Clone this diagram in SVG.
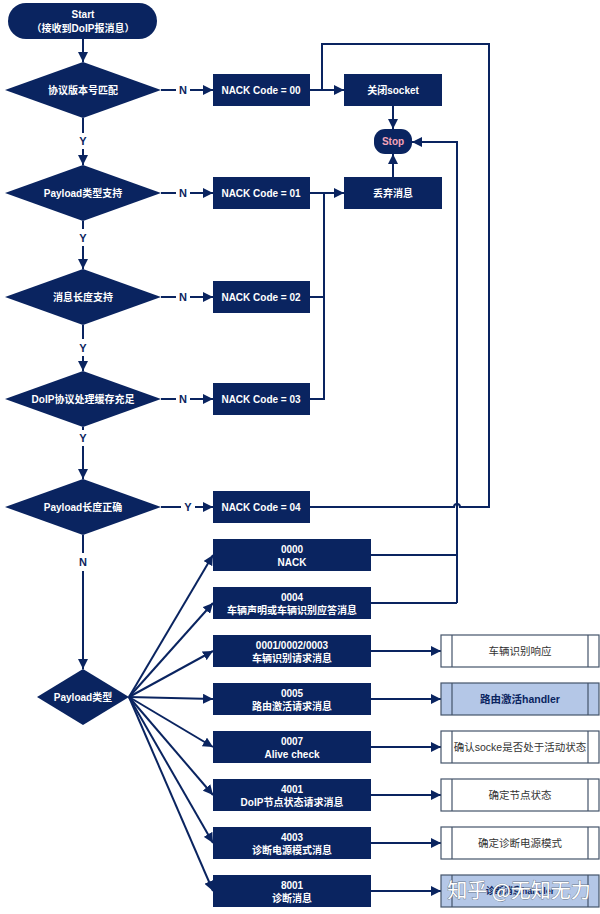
<svg xmlns="http://www.w3.org/2000/svg" width="600" height="914" viewBox="0 0 600 914">
<defs>
<marker id="ah" markerUnits="userSpaceOnUse" markerWidth="10" markerHeight="10" refX="10" refY="5" orient="auto" viewBox="0 0 10 10">
<path d="M0,0 L10,5 L0,10 z" fill="#0a2460"/>
</marker>
</defs>
<style>
.n{fill:#0a2460}
.t{fill:#fff;font-family:"Liberation Sans","Noto Sans CJK SC",sans-serif;font-size:10px;font-weight:bold;text-anchor:middle;dominant-baseline:central}
.l{fill:#0a2460;font-family:"Liberation Sans","Noto Sans CJK SC",sans-serif;font-size:11px;font-weight:bold;text-anchor:middle;dominant-baseline:central}
.c{fill:none;stroke:#0a2460;stroke-width:2}
.a{marker-end:url(#ah)}
.r{fill:#fff;stroke:#44546a;stroke-width:1.2}
.rb{fill:#b4c7e7;stroke:#44546a;stroke-width:1.2}
.rt{fill:#333;font-family:"Liberation Sans","Noto Sans CJK SC",sans-serif;font-size:10.5px;text-anchor:middle;dominant-baseline:central}
.rtb{fill:#0a2460;font-family:"Liberation Sans","Noto Sans CJK SC",sans-serif;font-size:10.5px;font-weight:bold;text-anchor:middle;dominant-baseline:central}
</style>
<rect width="600" height="914" fill="#fff"/>

<g id="connectors">
<path class="c a" d="M83,39 V62"/>
<path class="c" d="M83,118 V133"/><path class="c a" d="M83,149 V165"/>
<path class="c" d="M83,221 V229"/><path class="c a" d="M83,246 V269"/>
<path class="c" d="M83,325 V339"/><path class="c a" d="M83,356 V371"/>
<path class="c" d="M83,427 V430"/><path class="c a" d="M83,446 V479"/>
<path class="c" d="M83,535 V553"/><path class="c a" d="M83,571 V669"/>
<path class="c" d="M161,90 H176"/><path class="c a" d="M190,90 H213"/>
<path class="c" d="M161,193 H176"/><path class="c a" d="M190,193 H213"/>
<path class="c" d="M161,297 H176"/><path class="c a" d="M190,297 H213"/>
<path class="c" d="M161,399 H176"/><path class="c a" d="M190,399 H213"/>
<path class="c" d="M161,507 H181"/><path class="c a" d="M195,507 H213"/>
<path class="c a" d="M310,90 H344"/>
<path class="c" d="M310,507 H454 A3,3 0 0 1 460,507 H489 V44 H322 V90"/>
<path class="c a" d="M310,193 H344"/>
<path class="c" d="M310,297 H324"/>
<path class="c" d="M310,399 H324 V193"/>
<path class="c a" d="M393,106 V129"/>
<path class="c a" d="M393,177 V154"/>
<path class="c a" d="M457,603 V142 H412"/>
<path class="c" d="M371,555 H457"/>
<path class="c" d="M371,603 H457"/>
<path class="c a" d="M129,697 L213,555"/>
<path class="c a" d="M129,697 L213,603"/>
<path class="c a" d="M129,697 L213,651"/>
<path class="c a" d="M129,697 L213,699"/>
<path class="c a" d="M129,697 L213,747"/>
<path class="c a" d="M129,697 L213,795"/>
<path class="c a" d="M129,697 L213,843"/>
<path class="c a" d="M129,697 L213,891"/>
<path class="c a" d="M371,651 H441"/>
<path class="c a" d="M371,699 H441"/>
<path class="c a" d="M371,747 H441"/>
<path class="c a" d="M371,795 H441"/>
<path class="c a" d="M371,843 H441"/>
<path class="c a" d="M371,891 H441"/>
</g>

<g id="labels">
<text class="l" x="83" y="141">Y</text>
<text class="l" x="83" y="238">Y</text>
<text class="l" x="83" y="348">Y</text>
<text class="l" x="83" y="438">Y</text>
<text class="l" x="83" y="562">N</text>
<text class="l" x="183" y="90">N</text>
<text class="l" x="183" y="193">N</text>
<text class="l" x="183" y="297">N</text>
<text class="l" x="183" y="399">N</text>
<text class="l" x="188" y="507">Y</text>
</g>

<g id="start"><rect class="n" x="8" y="3" width="149" height="36" rx="18"/>
<text class="t" x="83" y="14">Start</text><text class="t" x="83" y="28">（接收到DoIP报消息）</text></g>

<g id="d1"><path class="n" d="M5,90 L83,62 L161,90 L83,118 z"/><text class="t" x="83" y="90">协议版本号匹配</text></g>
<g id="d2"><path class="n" d="M5,193 L83,165 L161,193 L83,221 z"/><text class="t" x="83" y="193">Payload类型支持</text></g>
<g id="d3"><path class="n" d="M5,297 L83,269 L161,297 L83,325 z"/><text class="t" x="83" y="297">消息长度支持</text></g>
<g id="d4"><path class="n" d="M5,399 L83,371 L161,399 L83,427 z"/><text class="t" x="83" y="399">DoIP协议处理缓存充足</text></g>
<g id="d5"><path class="n" d="M5,507 L83,479 L161,507 L83,535 z"/><text class="t" x="83" y="507">Payload长度正确</text></g>
<g id="d6"><path class="n" d="M37,697 L83,669 L129,697 L83,725 z"/><text class="t" x="83" y="697">Payload类型</text></g>

<g id="nack00"><rect class="n" x="213" y="74" width="97" height="32"/><text class="t" x="261" y="90">NACK Code = 00</text></g>
<g id="nack01"><rect class="n" x="213" y="177" width="97" height="32"/><text class="t" x="261" y="193">NACK Code = 01</text></g>
<g id="nack02"><rect class="n" x="213" y="281" width="97" height="32"/><text class="t" x="261" y="297">NACK Code = 02</text></g>
<g id="nack03"><rect class="n" x="213" y="383" width="97" height="32"/><text class="t" x="261" y="399">NACK Code = 03</text></g>
<g id="nack04"><rect class="n" x="213" y="491" width="97" height="32"/><text class="t" x="261" y="507">NACK Code = 04</text></g>

<g id="close"><rect class="n" x="344" y="74" width="98" height="32"/><text class="t" x="393" y="90">关闭socket</text></g>
<g id="discard"><rect class="n" x="344" y="177" width="98" height="32"/><text class="t" x="393" y="193">丢弃消息</text></g>
<g id="stop"><rect class="n" x="374" y="129" width="38" height="25" rx="11"/><text class="t" x="393" y="141.5" style="fill:#f4a3b8">Stop</text></g>

<g id="m0000"><rect class="n" x="213" y="539" width="158" height="32"/><text class="t" x="292" y="549">0000</text><text class="t" x="292" y="562">NACK</text></g>
<g id="m0004"><rect class="n" x="213" y="587" width="158" height="32"/><text class="t" x="292" y="597">0004</text><text class="t" x="292" y="610">车辆声明或车辆识别应答消息</text></g>
<g id="m0001"><rect class="n" x="213" y="635" width="158" height="32"/><text class="t" x="292" y="645">0001/0002/0003</text><text class="t" x="292" y="658">车辆识别请求消息</text></g>
<g id="m0005"><rect class="n" x="213" y="683" width="158" height="32"/><text class="t" x="292" y="693">0005</text><text class="t" x="292" y="706">路由激活请求消息</text></g>
<g id="m0007"><rect class="n" x="213" y="731" width="158" height="32"/><text class="t" x="292" y="741">0007</text><text class="t" x="292" y="754">Alive check</text></g>
<g id="m4001"><rect class="n" x="213" y="779" width="158" height="32"/><text class="t" x="292" y="789">4001</text><text class="t" x="292" y="802">DoIP节点状态请求消息</text></g>
<g id="m4003"><rect class="n" x="213" y="827" width="158" height="32"/><text class="t" x="292" y="837">4003</text><text class="t" x="292" y="850">诊断电源模式消息</text></g>
<g id="m8001"><rect class="n" x="213" y="875" width="158" height="32"/><text class="t" x="292" y="885">8001</text><text class="t" x="292" y="898">诊断消息</text></g>

<g id="r1"><rect class="r" x="441" y="635" width="158" height="32"/><path class="r" d="M452,635 V667 M588,635 V667"/><text class="rt" x="520" y="651">车辆识别响应</text></g>
<g id="r2"><rect class="rb" x="441" y="683" width="158" height="32"/><path class="rb" d="M452,683 V715 M588,683 V715"/><text class="rtb" x="520" y="699">路由激活handler</text></g>
<g id="r3"><rect class="r" x="441" y="731" width="158" height="32"/><path class="r" d="M452,731 V763 M588,731 V763"/><text class="rt" x="520" y="747">确认socke是否处于活动状态</text></g>
<g id="r4"><rect class="r" x="441" y="779" width="158" height="32"/><path class="r" d="M452,779 V811 M588,779 V811"/><text class="rt" x="520" y="795">确定节点状态</text></g>
<g id="r5"><rect class="r" x="441" y="827" width="158" height="32"/><path class="r" d="M452,827 V859 M588,827 V859"/><text class="rt" x="520" y="843">确定诊断电源模式</text></g>
<g id="r6"><rect class="rb" x="441" y="875" width="158" height="32"/><path class="rb" d="M452,875 V907 M588,875 V907"/><text class="rtb" x="520" y="891" style="font-size:9px">诊断消息handler</text></g>

<text x="519" y="889" style="fill:#fff;stroke:#6a7688;stroke-width:0.8;paint-order:stroke;font-family:'Noto Sans CJK SC',sans-serif;font-size:20px;text-anchor:middle;dominant-baseline:central">知乎 @无知无力</text>
</svg>
